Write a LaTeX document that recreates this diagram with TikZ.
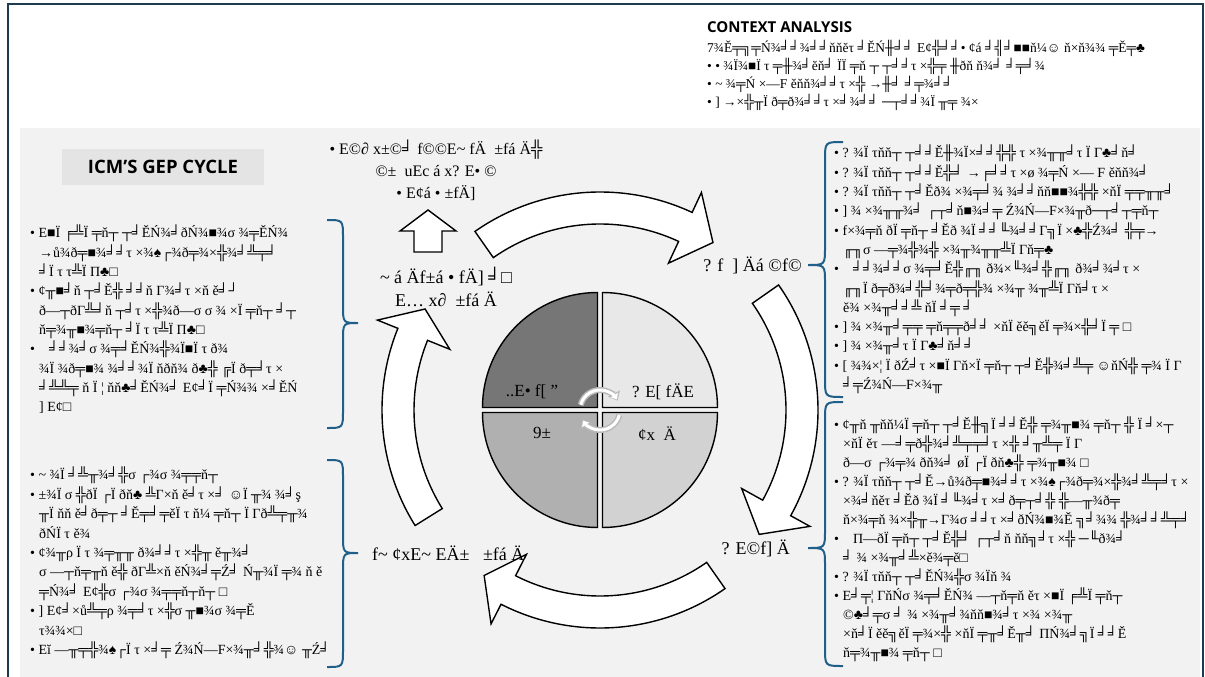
\documentclass[tikz,border=0pt]{standalone}
\usepackage{fontspec}
\setmainfont{Liberation Serif}
\newfontfamily\headfont{Open Sans}
\usetikzlibrary{calc, arrows.meta}

\definecolor{framenavy}{RGB}{30,58,78}
\definecolor{panelgray}{RGB}{242,242,242}
\definecolor{tagbg}{RGB}{228,228,228}
\definecolor{braceblue}{RGB}{31,96,138}
\definecolor{quadA}{RGB}{118,118,118}
\definecolor{quadB}{RGB}{232,232,232}
\definecolor{quadC}{RGB}{176,176,176}
\definecolor{quadD}{RGB}{210,210,210}

\newcommand{\contline}{\hspace*{9pt}}

\begin{document}
\begin{tikzpicture}[
    x=1pt, y=-1pt,
    bigarrow/.style={draw=black, fill=white, line width=1.4pt, line join=miter},
    quad/.style={draw=black, line width=1.4pt},
    listtext/.style={anchor=north west, inner sep=0pt, align=left, font=\fontsize{14}{19.3}\selectfont},
    steplabel/.style={inner sep=0pt, align=center, font=\fontsize{18}{23}\selectfont},
    quadlabel/.style={inner sep=0pt, font=\fontsize{17}{20}\selectfont},
    capbrace/.style={draw=braceblue, line width=2pt},
    heading/.style={inner sep=0pt, font=\headfont\bfseries}
  ]
  \useasboundingbox (0,0) rectangle (1205,677);
  \fill[white] (0,0) rectangle (1205,677);

  % --- frame and panel ---
  \fill[panelgray] (20,128) rectangle (1200,680);
  \draw[framenavy, line width=2.5pt] (8,4) rectangle (1203,700);
  \fill[tagbg] (62,149) rectangle (264,185);
  \node[heading, font=\headfont\bfseries\fontsize{18.5}{22}\selectfont] (cycletitle) at (163,167) {ICM’S GEP CYCLE};
  \node[heading, anchor=west, font=\headfont\bfseries\fontsize{15}{18}\selectfont] (contexttitle) at (707,27) {CONTEXT ANALYSIS};

  % --- context analysis list ---
  \node[listtext, font=\fontsize{13.5}{18}\selectfont] (contextlist) at (707,40) {%
    7¾Ě╤╗╤Ń¾╛╛¾╛╛ňňĕτ ╛ĚŃ╫╛╛ E¢╬╛╛• ¢á ╛╣╛■■ň¼☺ ň×ň¾¾ ╤Ě╤♣\\
    • • ¾Ï¾■Ï τ ╤╫¾╛ĕň╛ ÏÏ ╤ň ┬ ┬╛╛τ ×╬╤ ╫ðň ň¾╛ ╛╤╛¾\\
    • \textasciitilde{} ¾╤Ń ×—F ěňň¾╛╛τ ×╬ →╫╛ ╛╤¾╛╛\\
    • ] →×╬╥Ï ð╤ð¾╛╛τ ×╛¾╛╛ ─┬╛╛¾Ï ╥╤ ¾×};

  % --- cycle centre ---
  \coordinate (c) at (600,410);
  \foreach \sx/\sy/\a/\col in {-1/-1/180/quadA, 1/-1/270/quadB, 1/1/0/quadD, -1/1/90/quadC}
    \draw[quad, fill=\col] ($(c)+(2.5*\sx,2.5*\sy)$) -- ++(\a:115)
      arc[start angle=\a, end angle=\a+90, radius=115] -- cycle;

  \node[quadlabel] (planq) at (532,392) {..E• f[ ”};
  \node[quadlabel] (doq) at (663,392) {? E[ fÄE};
  \node[quadlabel] (actq) at (542,433) {9±};
  \node[quadlabel] (checkq) at (657,434) {¢x\ \ Ä};

  % small refresh icon
  \draw[gray!55, line width=6pt, -{Triangle[length=8pt, width=13pt]}] ($(c)+(-165:20)$) arc[start angle=-165, end angle=-28, radius=20];
  \draw[white, line width=3pt, -{Triangle[length=5pt, width=8pt]}] ($(c)+(-165:20)$) arc[start angle=-165, end angle=-32, radius=20];
  \draw[gray!55, line width=6pt, -{Triangle[length=8pt, width=13pt]}] ($(c)+(15:20)$) arc[start angle=15, end angle=152, radius=20];
  \draw[white, line width=3pt, -{Triangle[length=5pt, width=8pt]}] ($(c)+(15:20)$) arc[start angle=15, end angle=148, radius=20];

  % --- big curved arrows (tail / head base / tip) ---
  \foreach \t/\b/\p in {-125/-65/-56, -35/29/38, 55/117/125, -212/-158/-150}
    \draw[bigarrow] ($(c)+(\t:218)$) arc[start angle=\t, end angle=\b, radius=218]
      -- ($(c)+(\b:240)$) -- ($(c)+(\p:202)$) -- ($(c)+(\b:162)$)
      -- ($(c)+(\b:186)$) arc[start angle=\b, end angle=\t, radius=186] -- cycle;

  % up block arrow
  \draw[bigarrow] (428,210) -- (456,231) -- (442,231) -- (442,252) -- (414,252) -- (414,231) -- (400,231) -- cycle;

  % --- step labels ---
  \node[inner sep=0pt, align=center, font=\fontsize{16}{22}\selectfont] (inputs) at (436,170) {%
    • E©∂ x±©╛ f©©E\textasciitilde{} fÄ\ \ ±fá Ä╬\\
    ©±\ \ uEc á x? E• ©\\
    • E¢á • ±fÄ]};
  \node[steplabel] (stepplan) at (446,287) {\textasciitilde{} á Äf±á • fÄ] ╛□\\E… x∂\ \ ±fá Ä};
  \node[steplabel, anchor=east] (stepdo) at (802,265) {? f\ \ ] Äá ©f©};
  \node[steplabel, anchor=east] (stepcheck) at (790,548) {? E©f] Ä};
  \node[steplabel, anchor=west] (stepact) at (372,553) {f\textasciitilde{}\ ¢xE\textasciitilde{} EÄ±\ \ \ ±fá\ Ä};

  % --- braces (end x / spine x / tip x / top y / tip y / bottom y) ---
  \foreach \xe/\xv/\xt/\ya/\ym/\yb in {327/343/358/220/323/428, 327/343/358/460/553/667,
                                     843/825/808/142/265/397, 843/825/808/402/548/666}
    \draw[capbrace] (\xe,\ya) .. controls (\xv,\ya) .. (\xv,\ya+18) -- (\xv,\ym-18)
      .. controls (\xv,\ym) .. (\xt,\ym) .. controls (\xv,\ym) .. (\xv,\ym+18)
      -- (\xv,\yb-18) .. controls (\xv,\yb) .. (\xe,\yb);

  % --- left notes ---
  \node[listtext] (plannotes) at (30,225) {%
    • E■Ï ╒╩Ï ╤ň┬ ┬╛ĚŃ¾╛ðŃ¾■¾σ ¾╤ĚŃ¾\\
    \contline →ů¾ð╤■¾╛╛τ ×¾♠┌¾ð╤¾×╬¾╛╩╤╛\\
    \contline ╛Ï τ τ╩Ï Π♣□\\
    • ¢╥■╛ň ┬╛Ě╬ ╛╛ň Γ¾╛τ ×ň ě╛┘\\
    \contline ð—┬ðΓ╩╛ň ┬╛τ ×╬¾ð—σ σ ¾ ×Ï ╤ň┬ ╛┬\\
    \contline ň╤¾╥■¾╤ň┬ ╛Ï τ τ╩Ï Π♣□\\
    •\quad ╛╛¾╛σ ¾╤╛ĚŃ¾╬¾Ï■Ï τ ð¾\\
    \contline ¾Ï ¾ð╤■¾ ¾╛╛¾Ï ňðň¾ ð♣╬ ╔Ï ð╤╛τ ×\\
    \contline ╛╩╩╤ ň Ï ¦ ňň♣╛ĚŃ¾╛ E¢╛Ï ╤Ń¾¾ ×╛ĚŃ\\
    \contline ] E¢□};

  \node[listtext, font=\fontsize{14}{19.4}\selectfont] (actnotes) at (30,467) {%
    • \textasciitilde{} ¾Ï ╛╩╥¾╛╬σ ┌¾σ ¾╤╤ň┬\\
    • ±¾Ï σ ╬ðÏ ┌Ï ðň♣ ╩Γ×ň ě╛τ ×╛ ☺Ï ╥¾ ¾╛ş\\
    \contline ╥Ï ňň ě╛ð╤┬ ╛Ě╤╛╤ěÏ τ ň¼ ╤ň┬ Ï Γð╩╤╥¾\\
    \contline ðŃÏ τ ě¾\\
    • ¢¾╥ρ Ï τ ¾╤╥╥ ð¾╛╛τ ×╬╥ ě╥¾╛\\
    \contline σ —┬ň╤╥ň ě╬ ðΓ╩×ň ěŃ¾╛╤Ź╛ Ń╥¾Ï ╤¾ ň ě\\
    \contline ╤Ń¾╛ E¢╬σ ┌¾σ ¾╤╤ň┬ň┬ □\\
    • ] E¢╛×ů╩╤ρ ¾╤╛τ ×╬σ ╥■¾σ ¾╤Ě\\
    \contline τ¾¾×□\\
    • Eĭ —╥╤╬¾♠┌Ï τ ×╛╤ Ź¾Ń—F×¾╥╛╬¾☺ ╥Ź╛};

  % --- right notes ---
  \node[listtext, font=\fontsize{14}{19.3}\selectfont] (donotes) at (834,145) {%
    • ? ¾Ï τňň┬ ┬╛╛Ě╫¾Ï×╛╛╬╬ τ ×¾╥╥╛τ Ï Γ♣╛ň╛\\
    • ? ¾Ï τňň┬ ┬╛╛Ě╬╛ →╒╛╛τ ×ø ¾╤Ń ×— F ěňň¾╛\\
    • ? ¾Ï τňň┬ ┬╛Ěð¾ ×¾╤╛¾ ¾╛╛ňň■■¾╬╬ ×ňÏ ╤╤╥╥╛\\
    • ] ¾ ×¾╥╥¾╛ ┌┬╛ň■¾╛╤ Ź¾Ń—F×¾╥ð─┬╛┬╤ň┬\\
    • f×¾╤ň ðÏ ╤ň┬ ╛Ěð ¾Ï ╛╛╙¾╛╛Γ╗Ï ×♣╬Ź¾╛ ╬╤→\\
    \contline ╓╖σ —╤¾╬¾╬ ×¾╥¾╥╥╩Ï Γň╤♣\\
    •\quad ╛╛¾╛╛σ ¾╤╛Ě╬╓╖ ð¾×╙¾╛╬╓╖ ð¾╛¾╛τ ×\\
    \contline ╓╖Ï ð╤ð¾╛╬╛¾╤ð╤╬¾ ×¾╥ ¾╥╩Ï Γň╛τ ×\\
    \contline ě¾ ×¾╥╛╛╩ ňÏ ╛╤ ╛\\
    • ] ¾ ×¾╥╛╤╤ ╤ň╤╤ð╛╛ ×ňÏ ěě╗ěÏ ╤¾×╬╛Ï ╤ □\\
    • ] ¾ ×¾╥╛τ Ï Γ♣╛ň╛╛\\
    • [ ¾¾×¦ Ï ðŹ╛τ ×■Ï Γň×Ï ╤ň┬ ┬╛Ě╬¾╛╩╤ ☺ňŃ╬ ╤¾ Ï Γ\\
    \contline ╛╤Ź¾Ń—F×¾╥};

  \node[listtext, font=\fontsize{14}{19}\selectfont] (checknotes) at (834,417) {%
    • ¢╥ň ╥ňň¼Ï ╤ň┬ ┬╛Ě╫╗Ï ╛╛Ě╬ ╤¾╥■¾ ╤ň┬ ╬ Ï ╛×┬\\
    \contline ×ňÏ ěτ —╛╤ð╬¾╛╩╤╤╛τ ×╬ ╛╥╩╤ Ï Γ\\
    \contline ð—σ ┌¾╤¾ ðň¾╛ øÏ ┌Ï ðň♣╬ ╤¾╥■¾ □\\
    • ? ¾Ï τňň┬ ┬╛Ě→ů¾ð╤■¾╛╛τ ×¾♠┌¾ð╤¾×╬¾╛╩╤╛τ ×\\
    \contline ×¾╛ňěτ ╛Ěð ¾Ï ╛╙¾╛τ ×╛ð╤┬╛╬ ╬—╥¾ð╤\\
    \contline ň×¾╤ň ¾×╬╥→Γ¾σ ╛╛τ ×╛ðŃ¾■¾Ě ╗╛¾¾ ╬¾╛╛╩╤╛\\
    •\quad Π—ðÏ ╤ň┬ ┬╛Ě╬╛ ┌┬╛ň ňň╗╛τ ×╬ ─╙ð¾╛\\
    \contline ╛ ¾ ×¾╥╛╩×ě¾╤ě□\\
    • ? ¾Ï τňň┬ ┬╛ĚŃ¾╬σ ¾Ïň ¾\\
    • E╛╤¦ ΓňŃσ ¾╤╛ĚŃ¾ —┬ň╤ň ěτ ×■Ï ╒╩Ï ╤ň┬\\
    \contline ©♣╛╤σ ╛ ¾ ×¾╥╛¾ňň■¾╛τ ×¾ ×¾╥\\
    \contline ×ň╛Ï ěě╗ěÏ ╤¾×╬ ×ňÏ ╤╥╛Ě╥╛ ΠŃ¾╛╗Ï ╛╛Ě\\
    \contline ň╤¾╥■¾ ╤ň┬ □};
\end{tikzpicture}
\end{document}
